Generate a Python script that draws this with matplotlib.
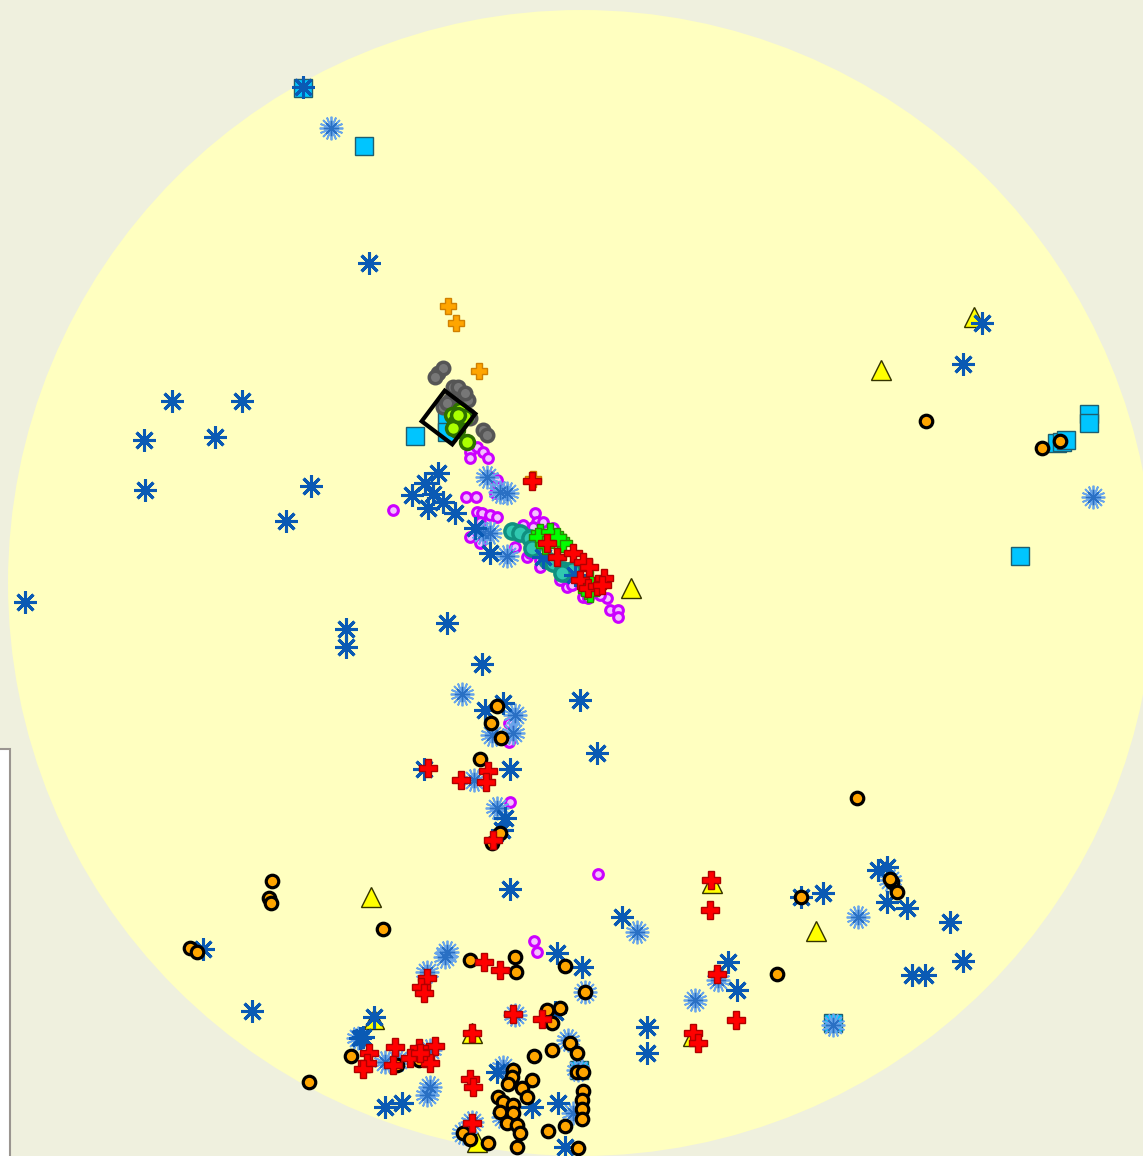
import matplotlib
matplotlib.use('Agg')
import matplotlib.pyplot as plt
from matplotlib.patches import Circle, Rectangle

# point positions (x, y in image pixels, y pointing down)
star_dark_x = [303, 369, 982, 963, 172, 242, 144, 215, 145, 311, 286, 25,
               438, 425, 412, 433, 443, 428, 455, 475, 490, 543, 575, 447,
               346, 346, 482, 580, 597, 510, 485, 503, 424, 510, 505, 502,
               878, 887, 887, 907, 950, 963, 823, 912, 925, 801,
               622, 728, 737, 647, 647, 203, 252, 374, 363,
               557, 582, 555, 360, 497, 532, 385, 402, 558, 565]
star_dark_y = [87, 263, 323, 364, 401, 401, 440, 437, 490, 486, 521, 602,
               473, 483, 495, 494, 502, 508, 513, 528, 553, 557, 575, 623,
               629, 647, 664, 700, 753, 889, 710, 703, 769, 769, 818, 830,
               870, 867, 902, 908, 922, 961, 893, 975, 975, 897,
               917, 962, 990, 1027, 1053, 949, 1011, 1017, 1037,
               953, 967, 1012, 1038, 1072, 1107, 1107, 1103, 1103, 1147]

star_light_x = [331, 1093, 507, 487, 500, 507, 483, 490, 462, 515, 492, 513,
                474, 497, 858, 890, 637, 718, 695, 833, 358, 445, 447, 427,
                585, 515, 385, 430, 503, 430, 427, 503, 573, 472, 463, 568,
                578, 420, 398]
star_light_y = [128, 497, 556, 477, 492, 493, 533, 533, 694, 715, 735, 733,
                780, 808, 917, 880, 932, 980, 1000, 1025, 1038, 957, 952, 972,
                992, 1015, 1062, 1050, 1067, 1087, 1095, 1117, 1113, 1122, 1133, 1040,
                1070, 1055, 1060]

orange_x = [926, 1042, 1060, 857, 497, 491, 501, 480, 500, 492, 892, 897, 890,
            801, 777, 272, 269, 271, 190, 197, 383, 351, 309, 470, 515, 516,
            565, 585, 547, 560, 552, 397, 534, 552, 570, 577, 513, 512, 508,
            532, 522, 527, 498, 503, 513, 500, 513, 507, 517, 520, 548, 565,
            577, 583, 583, 582, 582, 582, 463, 470, 488, 517, 578, 419]
orange_y = [421, 448, 441, 798, 706, 723, 738, 759, 833, 843, 882, 892, 879,
            897, 974, 881, 898, 903, 948, 952, 929, 1056, 1082, 960, 957, 972,
            966, 992, 1010, 1008, 1023, 1065, 1056, 1050, 1043, 1053, 1070, 1077, 1084,
            1080, 1088, 1097, 1097, 1102, 1105, 1112, 1113, 1123, 1125, 1133, 1131, 1126,
            1072, 1072, 1091, 1100, 1109, 1119, 1133, 1139, 1143, 1147, 1148, 1060]

red_x = [532, 547, 557, 573, 583, 589, 580, 588, 597, 604, 602, 428, 461, 488,
         486, 493, 711, 710, 717, 736, 693, 698, 484, 500, 427, 421, 424, 513,
         542, 472, 435, 395, 369, 367, 363, 393, 419, 410, 425, 430, 420, 470,
         473, 472]
red_y = [481, 543, 557, 553, 562, 567, 580, 588, 586, 578, 585, 768, 780, 771,
         782, 840, 880, 910, 974, 1020, 1033, 1043, 962, 970, 978, 987, 993, 1014,
         1019, 1033, 1046, 1047, 1053, 1063, 1069, 1065, 1048, 1058, 1058, 1063, 1053, 1079,
         1087, 1123]

orange_plus_x = [448, 456, 479, 533]
orange_plus_y = [306, 323, 371, 479]

green_plus_x = [540, 550, 560, 563, 590, 587, 590, 557, 538, 545]
green_plus_y = [533, 532, 540, 543, 580, 590, 593, 537, 537, 545]

tri_x = [974, 881, 631, 371, 712, 816, 693, 374, 472, 477]
tri_y = [317, 370, 588, 897, 883, 931, 1036, 1019, 1033, 1142]

square_x = [303, 364, 415, 447, 447, 1089, 1089, 1057, 1062, 1066, 1020, 833, 579]
square_y = [88, 146, 436, 420, 432, 414, 423, 443, 442, 440, 556, 1023, 1070]

magenta_x = [470, 477, 483, 488, 470, 490, 497, 498, 466, 476, 393, 477, 482,
             490, 497, 480, 470, 480, 523, 535, 537, 543, 533, 553, 527, 530,
             540, 550, 540, 560, 567, 583, 588, 607, 610, 618, 618, 515, 495,
             572, 600, 510, 598, 509, 509, 534, 537]
magenta_y = [452, 447, 452, 458, 458, 477, 480, 487, 497, 497, 510, 512, 513,
             515, 517, 522, 537, 543, 525, 513, 522, 522, 527, 528, 557, 553,
             560, 563, 567, 580, 587, 597, 598, 598, 610, 610, 617, 547, 493,
             585, 595, 802, 874, 723, 742, 941, 952]

gray_x = [438, 443, 435, 453, 458, 463, 468, 450, 455, 468, 470, 483, 487, 443, 447, 465]
gray_y = [373, 368, 377, 387, 387, 398, 400, 400, 410, 415, 418, 430, 435, 407, 403, 393]

lime_x = [460, 452, 460, 455, 457, 453, 465, 467, 458]
lime_y = [410, 415, 420, 423, 430, 428, 417, 442, 415]

teal_x = [512, 520, 530, 532, 547, 553, 563, 567, 572, 562]
teal_y = [531, 533, 538, 548, 560, 563, 570, 573, 570, 573]

diamond_x = [448]
diamond_y = [417]

W, H = 1143, 1156

fig = plt.figure(figsize=(W / 100, H / 100), dpi=100)
fig.patch.set_facecolor('#eff0de')
ax = fig.add_axes([0, 0, 1, 1])
ax.set_xlim(0, W)
ax.set_ylim(H, 0)
ax.axis('off')

# the round field and the clipped box on the left
ax.add_patch(Circle((581, 583), 573, facecolor='#ffffc0', edgecolor='none', zorder=0))
ax.add_patch(Rectangle((-3, 749), 13, 420, facecolor='white', edgecolor='#9a9590',
                       lw=1.5, zorder=1))

ax.plot(square_x, square_y, ls='none', marker='s', ms=13, mfc='#00c5ff',
        mec='#1f5f6f', mew=1, zorder=2)
ax.plot(tri_x, tri_y, ls='none', marker='^', ms=14, mfc='#ffff00',
        mec='#333300', mew=1, zorder=3)
ax.plot(magenta_x, magenta_y, ls='none', marker='o', ms=7, mfc='#f4c0ff',
        mec='#cc00ff', mew=2.2, zorder=3.5)
ax.plot(teal_x, teal_y, ls='none', marker='o', ms=11, mfc='#30c8b0',
        mec='#109080', mew=2.5, zorder=4)
# overlapping stars show up as pale blue snowflakes
for ang in (0, 22.5):
    ax.plot(star_light_x, star_light_y, ls='none', marker=(8, 2, ang), ms=17,
            mec='#6aa6ea', mew=1.3, zorder=4.5)
ax.plot(star_light_x, star_light_y, ls='none', marker=(8, 2, 0), ms=11,
        mec='#2a70c4', mew=1, zorder=4.6)
ax.plot(star_dark_x, star_dark_y, ls='none', marker=(8, 2, 0), ms=16,
        mec='#0a5ab4', mew=2.2, zorder=5)
ax.plot(gray_x, gray_y, ls='none', marker='o', ms=9, mfc='#777777',
        mec='#555555', mew=2.5, zorder=5)
ax.plot(lime_x, lime_y, ls='none', marker='o', ms=10, mfc='#aaff00',
        mec='#2e7000', mew=2.5, zorder=6)
ax.plot(orange_x, orange_y, ls='none', marker='o', ms=9, mfc='#ffa500',
        mec='black', mew=2.3, zorder=7)
ax.plot(green_plus_x, green_plus_y, ls='none', marker='P', ms=13, mfc='#00ff00',
        mec='#2a8a00', mew=1, zorder=7.5)
ax.plot(orange_plus_x, orange_plus_y, ls='none', marker='P', ms=12, mfc='#ffa500',
        mec='#d08000', mew=1, zorder=7.6)
ax.plot(red_x, red_y, ls='none', marker='P', ms=13, mfc='#ff0000',
        mec='#b00000', mew=1, zorder=8)
ax.plot(diamond_x, diamond_y, ls='none', marker=(4, 0, 8), ms=39, mfc='none',
        mec='black', mew=3, zorder=9)

fig.savefig('out.png', dpi=100, facecolor=fig.get_facecolor())
